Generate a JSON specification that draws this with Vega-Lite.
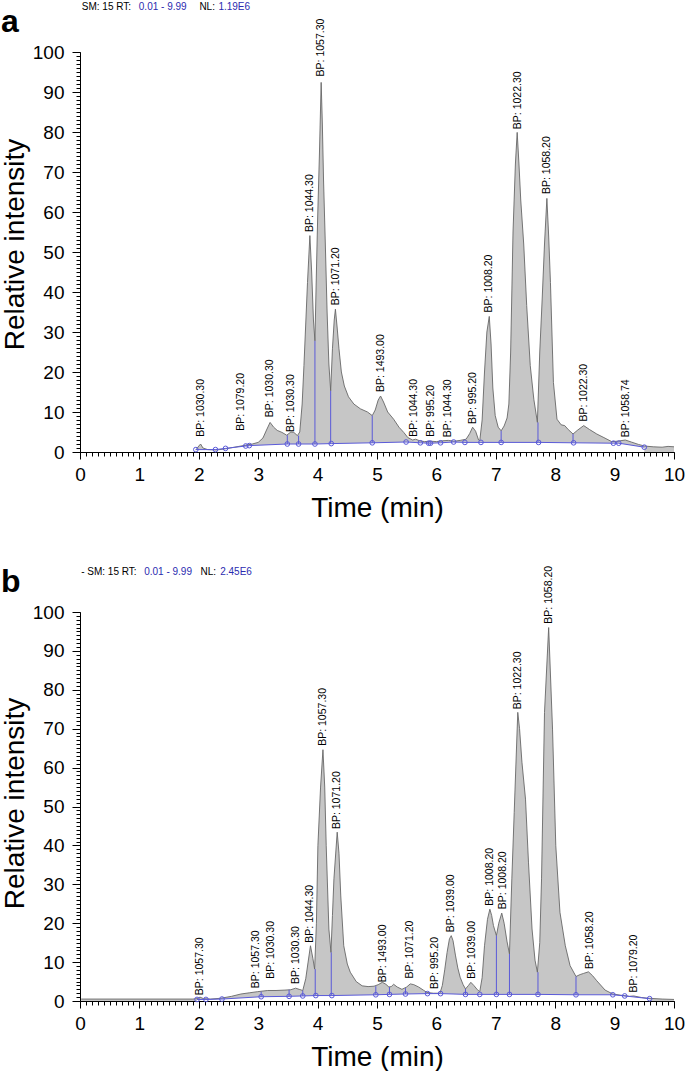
{
  "$schema": "https://vega.github.io/schema/vega-lite/v6.json",
  "padding": {"left": 0, "top": 1, "right": 0, "bottom": 0},
  "background": "white",
  "config": {
    "view": {"stroke": null},
    "font": "Liberation Sans",
    "axis": {
      "grid": false, "domainColor": "#000000", "tickColor": "#000000", "labelColor": "#000000", "titleColor": "#000000",
      "labelFont": "Liberation Sans", "titleFont": "Liberation Sans", "labelFontSize": 19, "titleFontSize": 28,
      "titleFontWeight": "normal", "labelFlush": false, "labelBound": false, "zindex": 1,
      "tickWidth": 1, "domainWidth": 1
    }
  },
  "bounds": "flush",
  "spacing": 160,
  "datasets": {
    "curveA": [
      {"t":1.95,"v":0.5},{"t":2.0,"v":1.5},{"t":2.03,"v":2.0},{"t":2.07,"v":1.0},{"t":2.15,"v":0.6},{"t":2.3,"v":0.5},{"t":2.45,"v":0.8},{"t":2.6,"v":1.2},{"t":2.75,"v":1.6},{"t":2.9,"v":2.0},{"t":3.0,"v":2.4},{"t":3.08,"v":3.5},{"t":3.14,"v":5.5},{"t":3.2,"v":7.4},{"t":3.26,"v":6.2},{"t":3.32,"v":5.4},{"t":3.4,"v":4.9},{"t":3.48,"v":4.2},{"t":3.55,"v":5.0},{"t":3.6,"v":4.9},{"t":3.66,"v":4.1},{"t":3.7,"v":5.0},{"t":3.74,"v":12},{"t":3.77,"v":21.6},{"t":3.8,"v":32},{"t":3.83,"v":42.4},{"t":3.87,"v":54.1},{"t":3.9,"v":45},{"t":3.93,"v":33},{"t":3.955,"v":27.8},{"t":3.98,"v":45},{"t":4.0,"v":58},{"t":4.03,"v":74},{"t":4.06,"v":92.4},{"t":4.08,"v":82},{"t":4.1,"v":68},{"t":4.13,"v":52},{"t":4.16,"v":35},{"t":4.19,"v":22},{"t":4.22,"v":15.3},{"t":4.25,"v":25.8},{"t":4.28,"v":33},{"t":4.3,"v":35.7},{"t":4.33,"v":31},{"t":4.36,"v":25.8},{"t":4.4,"v":20},{"t":4.45,"v":16.5},{"t":4.52,"v":13.8},{"t":4.61,"v":12},{"t":4.72,"v":10.8},{"t":4.84,"v":10},{"t":4.92,"v":9.1},{"t":4.97,"v":10.5},{"t":5.02,"v":13},{"t":5.06,"v":14},{"t":5.11,"v":12.5},{"t":5.18,"v":10},{"t":5.28,"v":8.2},{"t":5.37,"v":6.2},{"t":5.45,"v":4.9},{"t":5.52,"v":3.6},{"t":5.6,"v":3.0},{"t":5.65,"v":3.2},{"t":5.72,"v":2.8},{"t":5.8,"v":2.6},{"t":5.9,"v":2.7},{"t":6.0,"v":2.6},{"t":6.1,"v":2.8},{"t":6.2,"v":2.9},{"t":6.3,"v":2.7},{"t":6.4,"v":2.9},{"t":6.5,"v":3.2},{"t":6.56,"v":4.6},{"t":6.61,"v":6.2},{"t":6.66,"v":5.2},{"t":6.71,"v":3.0},{"t":6.73,"v":2.8},{"t":6.77,"v":8},{"t":6.81,"v":20},{"t":6.85,"v":30},{"t":6.89,"v":33.9},{"t":6.92,"v":27},{"t":6.95,"v":16},{"t":6.99,"v":9.1},{"t":7.04,"v":6.2},{"t":7.09,"v":5.3},{"t":7.14,"v":6.5},{"t":7.19,"v":8.5},{"t":7.22,"v":12},{"t":7.25,"v":25},{"t":7.29,"v":55},{"t":7.33,"v":72},{"t":7.36,"v":79.9},{"t":7.39,"v":72},{"t":7.42,"v":63},{"t":7.47,"v":52},{"t":7.52,"v":36.6},{"t":7.58,"v":21.6},{"t":7.64,"v":13.2},{"t":7.7,"v":7.4},{"t":7.74,"v":25},{"t":7.78,"v":38},{"t":7.82,"v":52},{"t":7.86,"v":63.4},{"t":7.89,"v":54},{"t":7.92,"v":42.4},{"t":7.97,"v":17.4},{"t":8.03,"v":8.2},{"t":8.1,"v":6.8},{"t":8.16,"v":6.6},{"t":8.22,"v":5.6},{"t":8.3,"v":4.5},{"t":8.38,"v":5.5},{"t":8.48,"v":6.6},{"t":8.58,"v":5.6},{"t":8.7,"v":4.5},{"t":8.82,"v":3.6},{"t":8.95,"v":2.6},{"t":9.05,"v":2.7},{"t":9.18,"v":3.0},{"t":9.28,"v":2.5},{"t":9.4,"v":1.9},{"t":9.5,"v":1.5},{"t":9.65,"v":1.3},{"t":9.8,"v":1.2},{"t":9.9,"v":1.4},{"t":10.0,"v":1.3}
    ],
    "baseA": [
      {"t":1.95,"v":0.6},{"t":2.28,"v":0.6},{"t":2.45,"v":0.9},{"t":2.79,"v":1.5},{"t":2.85,"v":1.6},{"t":3.49,"v":2.0},{"t":3.68,"v":2.0},{"t":3.955,"v":2.0},{"t":4.23,"v":2.1},{"t":4.92,"v":2.3},{"t":5.49,"v":2.5},{"t":5.73,"v":2.3},{"t":5.87,"v":2.2},{"t":5.9,"v":2.2},{"t":6.07,"v":2.3},{"t":6.29,"v":2.5},{"t":6.48,"v":2.4},{"t":6.75,"v":2.4},{"t":7.09,"v":2.4},{"t":7.72,"v":2.4},{"t":8.31,"v":2.3},{"t":8.98,"v":2.2},{"t":9.07,"v":2.2},{"t":9.5,"v":1.2}
    ],
    "dropA": [
      {"t":3.49,"v":2.0,"v2":4.2},{"t":3.68,"v":2.0,"v2":4.1},{"t":3.955,"v":2.0,"v2":27.8},{"t":4.22,"v":2.1,"v2":15.3},{"t":4.92,"v":2.3,"v2":9.1},{"t":7.09,"v":2.4,"v2":5.3},{"t":7.71,"v":2.4,"v2":7.4},{"t":8.3,"v":2.3,"v2":4.5}
    ],
    "labA": [
      {"t":2.03,"v":3.8,"label":"BP: 1030.30"},{"t":2.71,"v":5.3,"label":"BP: 1079.20"},{"t":3.2,"v":8.7,"label":"BP: 1030.30"},{"t":3.56,"v":5.0,"label":"BP: 1030.30"},{"t":3.87,"v":55,"label":"BP: 1044.30"},{"t":4.06,"v":93.9,"label":"BP: 1057.30"},{"t":4.31,"v":36.7,"label":"BP: 1071.20"},{"t":5.06,"v":15,"label":"BP: 1493.00"},{"t":5.62,"v":3.8,"label":"BP: 1044.30"},{"t":5.91,"v":3.8,"label":"BP: 995.20"},{"t":6.19,"v":3.7,"label":"BP: 1044.30"},{"t":6.61,"v":7,"label":"BP: 995.20"},{"t":6.89,"v":34.9,"label":"BP: 1008.20"},{"t":7.37,"v":80.7,"label":"BP: 1022.30"},{"t":7.86,"v":64.5,"label":"BP: 1058.20"},{"t":8.48,"v":7.6,"label":"BP: 1022.30"},{"t":9.19,"v":3.7,"label":"BP: 1058.74"}
    ],
    "curveB": [
      {"t":0.02,"v":0.5},{"t":1.9,"v":0.5},{"t":1.97,"v":0.6},{"t":2.02,"v":1.0},{"t":2.08,"v":0.6},{"t":2.2,"v":0.5},{"t":2.37,"v":0.7},{"t":2.55,"v":1.2},{"t":2.71,"v":1.8},{"t":2.85,"v":2.1},{"t":2.99,"v":2.4},{"t":3.16,"v":2.7},{"t":3.3,"v":2.7},{"t":3.45,"v":2.8},{"t":3.55,"v":2.9},{"t":3.63,"v":3.3},{"t":3.69,"v":3.0},{"t":3.75,"v":2.7},{"t":3.8,"v":5.7},{"t":3.84,"v":10},{"t":3.88,"v":14.2},{"t":3.92,"v":11},{"t":3.95,"v":8.2},{"t":3.98,"v":20},{"t":4.005,"v":39.9},{"t":4.05,"v":55},{"t":4.09,"v":64.6},{"t":4.12,"v":55},{"t":4.145,"v":39.9},{"t":4.19,"v":18.5},{"t":4.225,"v":12.5},{"t":4.25,"v":22},{"t":4.275,"v":31.4},{"t":4.33,"v":43.4},{"t":4.36,"v":38},{"t":4.39,"v":27},{"t":4.44,"v":14.2},{"t":4.5,"v":9.5},{"t":4.55,"v":7.4},{"t":4.65,"v":5},{"t":4.75,"v":3.9},{"t":4.85,"v":3.7},{"t":4.95,"v":3.8},{"t":5.02,"v":4.2},{"t":5.09,"v":4.8},{"t":5.15,"v":4.3},{"t":5.2,"v":3.6},{"t":5.24,"v":3.7},{"t":5.28,"v":4.3},{"t":5.34,"v":3.6},{"t":5.42,"v":3.0},{"t":5.5,"v":3.6},{"t":5.56,"v":4.4},{"t":5.62,"v":4.2},{"t":5.7,"v":3.6},{"t":5.78,"v":2.8},{"t":5.84,"v":2.2},{"t":5.95,"v":2.0},{"t":6.06,"v":2.0},{"t":6.1,"v":4},{"t":6.14,"v":8},{"t":6.18,"v":12.5},{"t":6.22,"v":16},{"t":6.25,"v":16.8},{"t":6.28,"v":15.5},{"t":6.32,"v":11.8},{"t":6.36,"v":8.5},{"t":6.4,"v":6.1},{"t":6.45,"v":4.2},{"t":6.49,"v":3.1},{"t":6.54,"v":4},{"t":6.58,"v":4.8},{"t":6.63,"v":4.0},{"t":6.69,"v":2.9},{"t":6.73,"v":2.4},{"t":6.77,"v":6},{"t":6.81,"v":14.2},{"t":6.86,"v":21},{"t":6.9,"v":23.6},{"t":6.93,"v":22},{"t":6.96,"v":19.4},{"t":7.01,"v":16.8},{"t":7.05,"v":20},{"t":7.1,"v":22.6},{"t":7.14,"v":20},{"t":7.19,"v":15.2},{"t":7.23,"v":12.1},{"t":7.27,"v":31.4},{"t":7.31,"v":48.5},{"t":7.37,"v":74.2},{"t":7.4,"v":70},{"t":7.44,"v":61.4},{"t":7.5,"v":51.9},{"t":7.55,"v":35.7},{"t":7.61,"v":18.5},{"t":7.66,"v":10.5},{"t":7.7,"v":7.4},{"t":7.74,"v":15},{"t":7.77,"v":31.4},{"t":7.82,"v":74.2},{"t":7.89,"v":96},{"t":7.955,"v":69.9},{"t":8.01,"v":39.9},{"t":8.08,"v":22.8},{"t":8.17,"v":14.2},{"t":8.25,"v":9.1},{"t":8.35,"v":6.3},{"t":8.42,"v":6.8},{"t":8.48,"v":7.1},{"t":8.56,"v":7.5},{"t":8.63,"v":6.5},{"t":8.7,"v":5.2},{"t":8.84,"v":2.8},{"t":8.97,"v":1.8},{"t":9.1,"v":1.5},{"t":9.25,"v":1.2},{"t":9.32,"v":1.3},{"t":9.45,"v":0.9},{"t":9.57,"v":0.7},{"t":9.8,"v":0.5},{"t":10.0,"v":0.4}
    ],
    "baseB": [
      {"t":1.97,"v":0.4},{"t":2.12,"v":0.4},{"t":2.39,"v":0.5},{"t":3.05,"v":1.1},{"t":3.52,"v":1.2},{"t":3.75,"v":1.3},{"t":3.97,"v":1.4},{"t":4.24,"v":1.4},{"t":4.98,"v":1.6},{"t":5.21,"v":1.7},{"t":5.48,"v":1.8},{"t":5.85,"v":1.9},{"t":6.07,"v":1.9},{"t":6.49,"v":1.7},{"t":6.73,"v":1.7},{"t":7.01,"v":1.7},{"t":7.23,"v":1.7},{"t":7.71,"v":1.7},{"t":8.35,"v":1.6},{"t":8.97,"v":1.6},{"t":9.17,"v":1.3},{"t":9.59,"v":0.6}
    ],
    "dropB": [
      {"t":3.05,"v":1.1,"v2":2.4},{"t":3.52,"v":1.2,"v2":2.9},{"t":3.75,"v":1.3,"v2":2.7},{"t":3.96,"v":1.4,"v2":8.2},{"t":4.23,"v":1.4,"v2":12.5},{"t":4.98,"v":1.6,"v2":3.8},{"t":5.21,"v":1.7,"v2":3.6},{"t":5.48,"v":1.8,"v2":3.3},{"t":6.49,"v":1.7,"v2":3.1},{"t":7.01,"v":1.7,"v2":16.8},{"t":7.23,"v":1.7,"v2":12.1},{"t":7.71,"v":1.7,"v2":7.4},{"t":8.35,"v":1.6,"v2":6.3}
    ],
    "labB": [
      {"t":2.02,"v":1.5,"label":"BP: 1057.30"},{"t":2.97,"v":3.3,"label":"BP: 1057.30"},{"t":3.21,"v":5.7,"label":"BP: 1030.30"},{"t":3.63,"v":4.4,"label":"BP: 1030.30"},{"t":3.88,"v":15,"label":"BP: 1044.30"},{"t":4.09,"v":65.6,"label":"BP: 1057.30"},{"t":4.33,"v":44.2,"label":"BP: 1071.20"},{"t":5.1,"v":4.8,"label":"BP: 1493.00"},{"t":5.56,"v":5.8,"label":"BP: 1071.20"},{"t":5.98,"v":3.1,"label":"BP: 995.20"},{"t":6.25,"v":17.7,"label":"BP: 1039.00"},{"t":6.6,"v":5.7,"label":"BP: 1039.00"},{"t":6.9,"v":24.5,"label":"BP: 1008.20"},{"t":7.12,"v":23.6,"label":"BP: 1008.20"},{"t":7.37,"v":75,"label":"BP: 1022.30"},{"t":7.89,"v":97,"label":"BP: 1058.20"},{"t":8.58,"v":8.2,"label":"BP: 1058.20"},{"t":9.33,"v":2.2,"label":"BP: 1079.20"}
    ]
  },
  "vconcat": [
    {
      "width": 594, "height": 400,
      "resolve": {"axis": {"x": "independent", "y": "independent"}},
      "layer": [
        {"data": {"name": "curveA"}, "mark": {"type": "area", "color": "#c6c6c6"},
         "encoding": {
           "x": {"field": "t", "type": "quantitative", "scale": {"domain": [0, 10], "nice": false, "zero": false},
                 "axis": {"orient": "bottom", "title": "Time (min)", "titlePadding": 10, "labelPadding": 6, "tickSize": 7,
                          "values": [0,1,2,3,4,5,6,7,8,9,10], "format": "d"}},
           "y": {"field": "v", "type": "quantitative", "scale": {"domain": [0, 100], "nice": false},
                 "axis": {"orient": "left", "title": "Relative intensity", "titlePadding": 3, "labelPadding": 8, "tickSize": 8, "titleY": 192,
                          "values": [0,10,20,30,40,50,60,70,80,90,100], "format": "d"}}
         }},
        {"data": {"name": "baseA"}, "mark": {"type": "area", "color": "#ffffff"},
         "encoding": {
           "x": {"field": "t", "type": "quantitative",
                 "axis": {"orient": "bottom", "title": null, "labels": false, "domain": false, "tickSize": 4,
                          "values": [0,0.1,0.2,0.3,0.4,0.5,0.6,0.7,0.8,0.9,1,1.1,1.2,1.3,1.4,1.5,1.6,1.7,1.8,1.9,2,2.1,2.2,2.3,2.4,2.5,2.6,2.7,2.8,2.9,3,3.1,3.2,3.3,3.4,3.5,3.6,3.7,3.8,3.9,4,4.1,4.2,4.3,4.4,4.5,4.6,4.7,4.8,4.9,5,5.1,5.2,5.3,5.4,5.5,5.6,5.7,5.8,5.9,6,6.1,6.2,6.3,6.4,6.5,6.6,6.7,6.8,6.9,7,7.1,7.2,7.3,7.4,7.5,7.6,7.7,7.8,7.9,8,8.1,8.2,8.3,8.4,8.5,8.6,8.7,8.8,8.9,9,9.1,9.2,9.3,9.4,9.5,9.6,9.7,9.8,9.9,10]}},
           "y": {"field": "v", "type": "quantitative",
                 "axis": {"orient": "left", "title": null, "labels": false, "domain": false, "tickSize": 4,
                          "values": [0,1,2,3,4,5,6,7,8,9,10,11,12,13,14,15,16,17,18,19,20,21,22,23,24,25,26,27,28,29,30,31,32,33,34,35,36,37,38,39,40,41,42,43,44,45,46,47,48,49,50,51,52,53,54,55,56,57,58,59,60,61,62,63,64,65,66,67,68,69,70,71,72,73,74,75,76,77,78,79,80,81,82,83,84,85,86,87,88,89,90,91,92,93,94,95,96,97,98,99,100]}}
         }},
        {"data": {"name": "curveA"}, "mark": {"type": "line", "color": "#686868", "strokeWidth": 0.9},
         "encoding": {"x": {"field": "t", "type": "quantitative", "axis": null}, "y": {"field": "v", "type": "quantitative", "axis": null}}},
        {"data": {"name": "baseA"}, "mark": {"type": "line", "color": "#5a5ad8", "strokeWidth": 1},
         "encoding": {"x": {"field": "t", "type": "quantitative", "axis": null}, "y": {"field": "v", "type": "quantitative", "axis": null}}},
        {"data": {"name": "dropA"}, "mark": {"type": "rule", "color": "#5a5ad8", "strokeWidth": 1},
         "encoding": {"x": {"field": "t", "type": "quantitative", "axis": null}, "y": {"field": "v", "type": "quantitative", "axis": null}, "y2": {"field": "v2"}}},
        {"data": {"name": "baseA"}, "mark": {"type": "point", "shape": "circle", "filled": false, "color": "#5a5ad8", "size": 22, "strokeWidth": 1, "opacity": 1},
         "encoding": {"x": {"field": "t", "type": "quantitative", "axis": null}, "y": {"field": "v", "type": "quantitative", "axis": null}}},
        {"data": {"name": "labA"}, "mark": {"type": "text", "angle": 270, "align": "left", "baseline": "middle", "fontSize": 10.5, "color": "#000000"},
         "encoding": {"x": {"field": "t", "type": "quantitative", "axis": null}, "y": {"field": "v", "type": "quantitative", "axis": null}, "text": {"field": "label"}}},
        {"data": {"values": [{"txt": "SM: 15 RT:"}]}, "mark": {"type": "text", "align": "left", "baseline": "middle", "fontSize": 10, "color": "#000000"},
         "encoding": {"x": {"datum": 0.03, "type": "quantitative", "axis": null}, "y": {"datum": 111.25, "type": "quantitative", "axis": null}, "text": {"field": "txt"}}},
        {"data": {"values": [{"txt": "0.01 - 9.99"}]}, "mark": {"type": "text", "align": "left", "baseline": "middle", "fontSize": 10, "color": "#2b2bb0"},
         "encoding": {"x": {"datum": 0.99, "type": "quantitative", "axis": null}, "y": {"datum": 111.25, "type": "quantitative", "axis": null}, "text": {"field": "txt"}}},
        {"data": {"values": [{"txt": "NL:"}]}, "mark": {"type": "text", "align": "left", "baseline": "middle", "fontSize": 10, "color": "#000000"},
         "encoding": {"x": {"datum": 2.01, "type": "quantitative", "axis": null}, "y": {"datum": 111.25, "type": "quantitative", "axis": null}, "text": {"field": "txt"}}},
        {"data": {"values": [{"txt": "1.19E6"}]}, "mark": {"type": "text", "align": "left", "baseline": "middle", "fontSize": 10, "color": "#2b2bb0"},
         "encoding": {"x": {"datum": 2.33, "type": "quantitative", "axis": null}, "y": {"datum": 111.25, "type": "quantitative", "axis": null}, "text": {"field": "txt"}}},
        {"data": {"values": [{"txt": "a"}]}, "mark": {"type": "text", "align": "left", "baseline": "alphabetic", "fontSize": 32, "fontWeight": "bold", "color": "#000000"},
         "encoding": {"x": {"datum": -1.33, "type": "quantitative", "axis": null}, "y": {"datum": 105.0, "type": "quantitative", "axis": null}, "text": {"field": "txt"}}}
      ]
    },
    {
      "width": 594, "height": 389,
      "resolve": {"axis": {"x": "independent", "y": "independent"}},
      "layer": [
        {"data": {"name": "curveB"}, "mark": {"type": "area", "color": "#c6c6c6"},
         "encoding": {
           "x": {"field": "t", "type": "quantitative", "scale": {"domain": [0, 10], "nice": false, "zero": false},
                 "axis": {"orient": "bottom", "title": "Time (min)", "titlePadding": 10, "labelPadding": 6, "tickSize": 7,
                          "values": [0,1,2,3,4,5,6,7,8,9,10], "format": "d"}},
           "y": {"field": "v", "type": "quantitative", "scale": {"domain": [0, 100], "nice": false},
                 "axis": {"orient": "left", "title": "Relative intensity", "titlePadding": 3, "labelPadding": 8, "tickSize": 8, "titleY": 191,
                          "values": [0,10,20,30,40,50,60,70,80,90,100], "format": "d"}}
         }},
        {"data": {"name": "baseB"}, "mark": {"type": "area", "color": "#ffffff"},
         "encoding": {
           "x": {"field": "t", "type": "quantitative",
                 "axis": {"orient": "bottom", "title": null, "labels": false, "domain": false, "tickSize": 4,
                          "values": [0,0.1,0.2,0.3,0.4,0.5,0.6,0.7,0.8,0.9,1,1.1,1.2,1.3,1.4,1.5,1.6,1.7,1.8,1.9,2,2.1,2.2,2.3,2.4,2.5,2.6,2.7,2.8,2.9,3,3.1,3.2,3.3,3.4,3.5,3.6,3.7,3.8,3.9,4,4.1,4.2,4.3,4.4,4.5,4.6,4.7,4.8,4.9,5,5.1,5.2,5.3,5.4,5.5,5.6,5.7,5.8,5.9,6,6.1,6.2,6.3,6.4,6.5,6.6,6.7,6.8,6.9,7,7.1,7.2,7.3,7.4,7.5,7.6,7.7,7.8,7.9,8,8.1,8.2,8.3,8.4,8.5,8.6,8.7,8.8,8.9,9,9.1,9.2,9.3,9.4,9.5,9.6,9.7,9.8,9.9,10]}},
           "y": {"field": "v", "type": "quantitative",
                 "axis": {"orient": "left", "title": null, "labels": false, "domain": false, "tickSize": 4,
                          "values": [0,1,2,3,4,5,6,7,8,9,10,11,12,13,14,15,16,17,18,19,20,21,22,23,24,25,26,27,28,29,30,31,32,33,34,35,36,37,38,39,40,41,42,43,44,45,46,47,48,49,50,51,52,53,54,55,56,57,58,59,60,61,62,63,64,65,66,67,68,69,70,71,72,73,74,75,76,77,78,79,80,81,82,83,84,85,86,87,88,89,90,91,92,93,94,95,96,97,98,99,100]}}
         }},
        {"data": {"name": "curveB"}, "mark": {"type": "line", "color": "#686868", "strokeWidth": 0.9},
         "encoding": {"x": {"field": "t", "type": "quantitative", "axis": null}, "y": {"field": "v", "type": "quantitative", "axis": null}}},
        {"data": {"name": "baseB"}, "mark": {"type": "line", "color": "#5a5ad8", "strokeWidth": 1},
         "encoding": {"x": {"field": "t", "type": "quantitative", "axis": null}, "y": {"field": "v", "type": "quantitative", "axis": null}}},
        {"data": {"name": "dropB"}, "mark": {"type": "rule", "color": "#5a5ad8", "strokeWidth": 1},
         "encoding": {"x": {"field": "t", "type": "quantitative", "axis": null}, "y": {"field": "v", "type": "quantitative", "axis": null}, "y2": {"field": "v2"}}},
        {"data": {"name": "baseB"}, "mark": {"type": "point", "shape": "circle", "filled": false, "color": "#5a5ad8", "size": 22, "strokeWidth": 1, "opacity": 1},
         "encoding": {"x": {"field": "t", "type": "quantitative", "axis": null}, "y": {"field": "v", "type": "quantitative", "axis": null}}},
        {"data": {"name": "labB"}, "mark": {"type": "text", "angle": 270, "align": "left", "baseline": "middle", "fontSize": 10.5, "color": "#000000"},
         "encoding": {"x": {"field": "t", "type": "quantitative", "axis": null}, "y": {"field": "v", "type": "quantitative", "axis": null}, "text": {"field": "label"}}},
        {"data": {"values": [{"txt": "- SM: 15 RT:"}]}, "mark": {"type": "text", "align": "left", "baseline": "middle", "fontSize": 10, "color": "#000000"},
         "encoding": {"x": {"datum": 0.02, "type": "quantitative", "axis": null}, "y": {"datum": 110.3, "type": "quantitative", "axis": null}, "text": {"field": "txt"}}},
        {"data": {"values": [{"txt": "0.01 - 9.99"}]}, "mark": {"type": "text", "align": "left", "baseline": "middle", "fontSize": 10, "color": "#2b2bb0"},
         "encoding": {"x": {"datum": 1.08, "type": "quantitative", "axis": null}, "y": {"datum": 110.3, "type": "quantitative", "axis": null}, "text": {"field": "txt"}}},
        {"data": {"values": [{"txt": "NL:"}]}, "mark": {"type": "text", "align": "left", "baseline": "middle", "fontSize": 10, "color": "#000000"},
         "encoding": {"x": {"datum": 2.03, "type": "quantitative", "axis": null}, "y": {"datum": 110.3, "type": "quantitative", "axis": null}, "text": {"field": "txt"}}},
        {"data": {"values": [{"txt": "2.45E6"}]}, "mark": {"type": "text", "align": "left", "baseline": "middle", "fontSize": 10, "color": "#2b2bb0"},
         "encoding": {"x": {"datum": 2.36, "type": "quantitative", "axis": null}, "y": {"datum": 110.3, "type": "quantitative", "axis": null}, "text": {"field": "txt"}}},
        {"data": {"values": [{"txt": "b"}]}, "mark": {"type": "text", "align": "left", "baseline": "alphabetic", "fontSize": 32, "fontWeight": "bold", "color": "#000000"},
         "encoding": {"x": {"datum": -1.33, "type": "quantitative", "axis": null}, "y": {"datum": 105.2, "type": "quantitative", "axis": null}, "text": {"field": "txt"}}}
      ]
    }
  ]
}
